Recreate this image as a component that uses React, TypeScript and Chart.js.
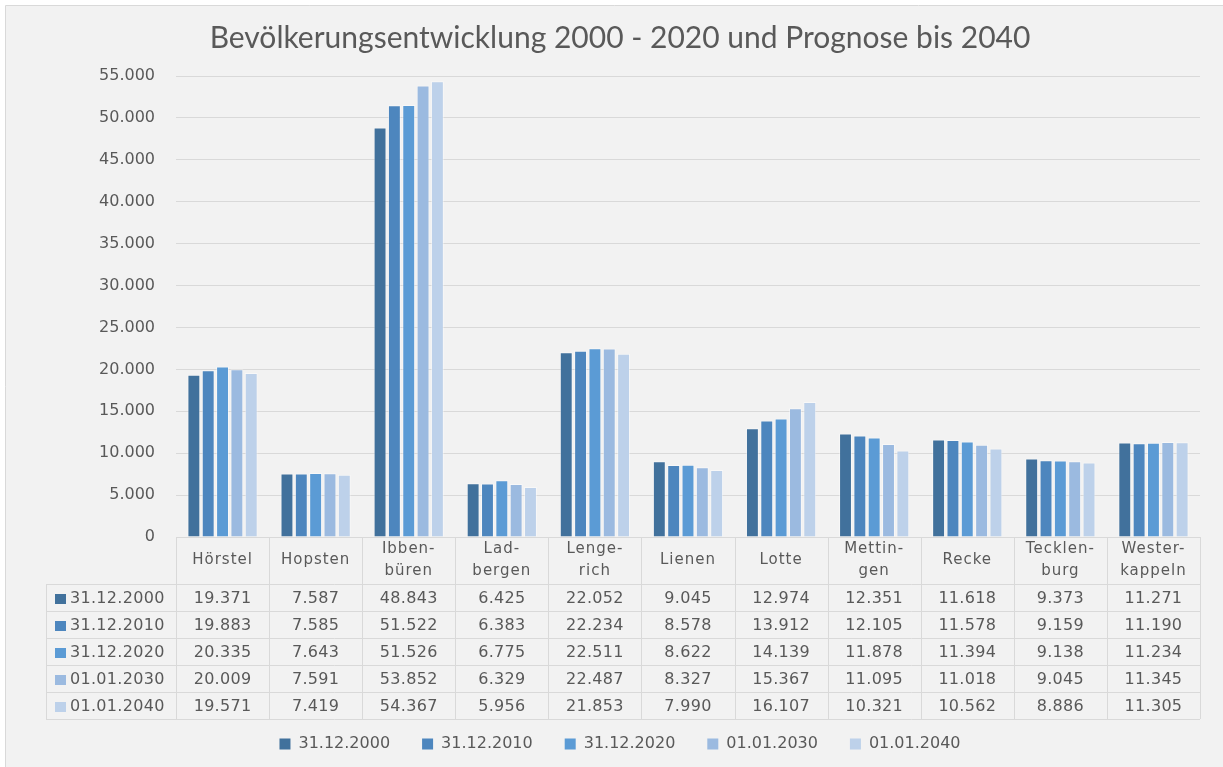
import React, { useEffect, useRef } from "react";
import { Chart, registerables } from "chart.js";

Chart.register(...registerables);

const categories: string[][] = [
  ["Hörstel"],
  ["Hopsten"],
  ["Ibben-", "büren"],
  ["Lad-", "bergen"],
  ["Lenge-", "rich"],
  ["Lienen"],
  ["Lotte"],
  ["Mettin-", "gen"],
  ["Recke"],
  ["Tecklen-", "burg"],
  ["Wester-", "kappeln"],
];

const seriesNames = ["31.12.2000", "31.12.2010", "31.12.2020", "01.01.2030", "01.01.2040"];

const s2000 = [19371, 7587, 48843, 6425, 22052, 9045, 12974, 12351, 11618, 9373, 11271];
const s2010 = [19883, 7585, 51522, 6383, 22234, 8578, 13912, 12105, 11578, 9159, 11190];
const s2020 = [20335, 7643, 51526, 6775, 22511, 8622, 14139, 11878, 11394, 9138, 11234];
const s2030 = [20009, 7591, 53852, 6329, 22487, 8327, 15367, 11095, 11018, 9045, 11345];
const s2040 = [19571, 7419, 54367, 5956, 21853, 7990, 16107, 10321, 10562, 8886, 11305];

const seriesValues = [s2000, s2010, s2020, s2030, s2040];
const seriesColors = ["#41719c", "#4d86be", "#5b9bd5", "#9bbae0", "#bdd1ea"];

const title = "Bevölkerungsentwicklung 2000 - 2020 und Prognose bis 2040";

const TEXT = "#595959";
const GRID = "#d9d9d9";
const FONT = "'DejaVu Sans', Verdana, sans-serif";

function fmt(v: number): string {
  if (v < 1000) return String(v);
  const th = Math.floor(v / 1000);
  const rest = String(v % 1000).padStart(3, "0");
  return th + "." + rest;
}

const backgroundPlugin = {
  id: "bgFrame",
  beforeDraw(chart: any) {
    const ctx = chart.ctx;
    ctx.save();
    ctx.fillStyle = "#ffffff";
    ctx.fillRect(0, 0, chart.width, chart.height);
    ctx.fillStyle = "#f2f2f2";
    ctx.fillRect(6, 6, chart.width - 6, chart.height - 6);
    ctx.strokeStyle = GRID;
    ctx.lineWidth = 1;
    ctx.beginPath();
    ctx.moveTo(5.5, 5.5);
    ctx.lineTo(chart.width, 5.5);
    ctx.moveTo(5.5, 5.5);
    ctx.lineTo(5.5, chart.height);
    ctx.stroke();
    ctx.restore();
  },
};

const tablePlugin = {
  id: "dataTable",
  afterDraw(chart: any) {
    const ctx = chart.ctx;
    const area = chart.chartArea;
    const n = categories.length;
    const left = area.left;
    const right = area.right;
    const colW = (right - left) / n;
    const top = Math.round(area.bottom);
    const headerH = 47;
    const rowH = 27;
    const rowsTop = top + headerH;
    const bottom = rowsTop + rowH * seriesNames.length;
    const legendLeft = 46;

    ctx.save();
    ctx.strokeStyle = GRID;
    ctx.lineWidth = 1;
    ctx.beginPath();
    for (let i = 0; i <= n; i++) {
      const x = Math.round(left + i * colW) + 0.5;
      ctx.moveTo(x, top);
      ctx.lineTo(x, bottom);
    }
    ctx.moveTo(legendLeft + 0.5, rowsTop);
    ctx.lineTo(legendLeft + 0.5, bottom);
    ctx.moveTo(left, top + 0.5);
    ctx.lineTo(right, top + 0.5);
    for (let r = 0; r <= seriesNames.length; r++) {
      const y = rowsTop + r * rowH + 0.5;
      ctx.moveTo(legendLeft, y);
      ctx.lineTo(right, y);
    }
    ctx.stroke();

    ctx.fillStyle = TEXT;
    ctx.textAlign = "center";
    ctx.textBaseline = "middle";
    ctx.font = "15px " + FONT;
    try {
      (ctx as any).letterSpacing = "1px";
    } catch (e) {}
    categories.forEach((lines, i) => {
      const cx = left + (i + 0.5) * colW;
      const cy = top + headerH / 2;
      if (lines.length === 1) {
        ctx.fillText(lines[0], cx, cy);
      } else {
        ctx.fillText(lines[0], cx, cy - 11);
        ctx.fillText(lines[1], cx, cy + 11);
      }
    });

    ctx.font = "16px " + FONT;
    try {
      (ctx as any).letterSpacing = "0.3px";
    } catch (e) {}
    seriesValues.forEach((vals, r) => {
      const cy = rowsTop + r * rowH + rowH / 2 + 1;
      vals.forEach((v, i) => {
        const cx = left + (i + 0.5) * colW;
        ctx.fillText(fmt(v), cx, cy);
      });
      ctx.fillStyle = seriesColors[r];
      ctx.fillRect(55, Math.round(cy - 5), 11, 10);
      ctx.fillStyle = TEXT;
      ctx.textAlign = "left";
      ctx.fillText(seriesNames[r], 70, cy);
      ctx.textAlign = "center";
    });
    try {
      (ctx as any).letterSpacing = "0px";
    } catch (e) {}
    ctx.restore();
  },
};

export default function App() {
  const canvasRef = useRef<HTMLCanvasElement | null>(null);

  useEffect(() => {
    const canvas = canvasRef.current;
    if (!canvas) return;
    const chart = new Chart(canvas, {
      type: "bar",
      data: {
        labels: categories.map((c) => c.join("")),
        datasets: seriesNames.map((name, i) => ({
          label: name,
          data: seriesValues[i],
          backgroundColor: seriesColors[i],
          borderColor: "rgba(255,255,255,0.45)",
          borderWidth: 1,
          categoryPercentage: 0.77,
          barPercentage: 0.9,
        })),
      },
      options: {
        responsive: false,
        animation: false,
        devicePixelRatio: 1,
        layout: { padding: { left: 40, right: 23, top: 0, bottom: 5 } },
        plugins: {
          title: {
            display: true,
            text: title,
            color: TEXT,
            font: { family: "Lato, 'Open Sans', sans-serif", size: 30, weight: "normal", lineHeight: 1.2 },
            padding: { top: 20, bottom: 20 },
          },
          legend: {
            display: true,
            position: "bottom",
            labels: {
              color: TEXT,
              font: { family: FONT, size: 16 },
              boxWidth: 11,
              boxHeight: 11,
              padding: 32,
              generateLabels: (c: any) =>
                Chart.defaults.plugins.legend.labels
                  .generateLabels(c)
                  .map((l: any) => ({ ...l, lineWidth: 0, strokeStyle: l.fillStyle })),
            },
          },
          tooltip: { enabled: false },
        },
        scales: {
          x: {
            grid: { display: false },
            border: { display: false },
            ticks: { display: false },
            afterFit: (axis: any) => {
              axis.height = 167;
            },
          },
          y: {
            min: 0,
            max: 55000,
            grid: { color: GRID, drawTicks: false },
            border: { display: false },
            ticks: {
              stepSize: 5000,
              padding: 21,
              color: TEXT,
              font: { family: FONT, size: 16 },
              callback: (v: any) => fmt(Number(v)),
            },
            afterFit: (axis: any) => {
              axis.width = 136;
            },
          },
        },
      },
      plugins: [backgroundPlugin, tablePlugin],
    });
    return () => chart.destroy();
  }, []);

  return (
    <div style={{ position: "absolute", left: 0, top: 0, width: 1223, height: 767 }}>
      <canvas ref={canvasRef} width={1223} height={767} style={{ width: 1223, height: 767, display: "block" }} />
    </div>
  );
}
